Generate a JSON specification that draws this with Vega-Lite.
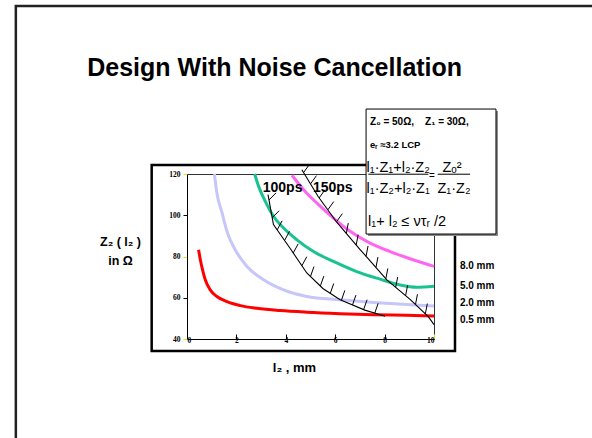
{
  "$schema": "https://vega.github.io/schema/vega-lite/v6.json",
  "width": 247,
  "height": 165,
  "autosize": {"type": "none"},
  "padding": {"left": 187, "top": 174, "right": 158, "bottom": 99},
  "background": "white",
  "config": {
    "view": {"stroke": "#333333", "strokeWidth": 1},
    "font": "Liberation Sans",
    "axisX": {
      "values": [0, 2, 4, 6, 8, 10], "grid": false,
      "labelFont": "Liberation Serif", "labelFontWeight": "bold", "labelFontSize": 7.5, "labelColor": "#000000",
      "labelPadding": 2, "tickSize": -5,
      "tickColor": {"condition": {"test": "datum.value === 0 || datum.value === 10", "value": "#e6e600"}, "value": "#000000"},
      "domainColor": "#000000",
      "titleFont": "Liberation Sans", "titleFontSize": 13, "titleFontWeight": "bold",
      "titleColor": "#000000", "titleX": 107, "titleY": 32, "titleAlign": "center", "titleBaseline": "alphabetic"
    },
    "axisY": {
      "values": [40, 60, 80, 100, 120], "grid": false,
      "labelFont": "Liberation Serif", "labelFontWeight": "bold", "labelFontSize": 7.5, "labelColor": "#000000",
      "labelPadding": 3, "tickSize": 4,
      "tickColor": {"condition": {"test": "datum.value === 80 || datum.value === 120 || datum.value === 40", "value": "#e6e600"}, "value": "#000000"},
      "domainColor": "#000000",
      "titleFont": "Liberation Sans", "titleFontSize": 12.5, "titleFontWeight": "bold",
      "titleColor": "#000000", "titleAngle": 0, "titleX": -67, "titleY": 71, "titleAlign": "center",
      "titleBaseline": "alphabetic", "titleLineHeight": 19
    }
  },
  "datasets": {
    "curves": [
      {"s": "0.5 mm", "x": 0.47, "y": 83.3}, {"s": "0.5 mm", "x": 0.54, "y": 78.4}, {"s": "0.5 mm", "x": 0.63, "y": 73.5},
      {"s": "0.5 mm", "x": 0.74, "y": 68.7}, {"s": "0.5 mm", "x": 0.94, "y": 63.8}, {"s": "0.5 mm", "x": 1.21, "y": 60.6},
      {"s": "0.5 mm", "x": 1.62, "y": 58.1}, {"s": "0.5 mm", "x": 2.16, "y": 56.2}, {"s": "0.5 mm", "x": 2.83, "y": 54.9},
      {"s": "0.5 mm", "x": 3.77, "y": 53.8}, {"s": "0.5 mm", "x": 4.85, "y": 53.0}, {"s": "0.5 mm", "x": 6.2, "y": 52.3},
      {"s": "0.5 mm", "x": 7.55, "y": 51.8}, {"s": "0.5 mm", "x": 8.9, "y": 51.5}, {"s": "0.5 mm", "x": 10, "y": 51.2},
      {"s": "2.0 mm", "x": 1.11, "y": 120}, {"s": "2.0 mm", "x": 1.21, "y": 110.8}, {"s": "2.0 mm", "x": 1.42, "y": 101.1},
      {"s": "2.0 mm", "x": 1.64, "y": 91.4}, {"s": "2.0 mm", "x": 1.95, "y": 83.3}, {"s": "2.0 mm", "x": 2.43, "y": 75.2},
      {"s": "2.0 mm", "x": 3.1, "y": 68.7}, {"s": "2.0 mm", "x": 3.91, "y": 63.8}, {"s": "2.0 mm", "x": 4.85, "y": 60.6},
      {"s": "2.0 mm", "x": 6.2, "y": 59.0}, {"s": "2.0 mm", "x": 7.55, "y": 57.7}, {"s": "2.0 mm", "x": 8.9, "y": 56.7},
      {"s": "2.0 mm", "x": 10, "y": 56.0},
      {"s": "5.0 mm", "x": 2.74, "y": 120}, {"s": "5.0 mm", "x": 2.9, "y": 114.0}, {"s": "5.0 mm", "x": 3.17, "y": 106.7},
      {"s": "5.0 mm", "x": 3.5, "y": 99.5}, {"s": "5.0 mm", "x": 3.91, "y": 93.8}, {"s": "5.0 mm", "x": 4.45, "y": 88.1},
      {"s": "5.0 mm", "x": 5.12, "y": 82.4}, {"s": "5.0 mm", "x": 5.93, "y": 77.6}, {"s": "5.0 mm", "x": 6.87, "y": 72.7},
      {"s": "5.0 mm", "x": 7.82, "y": 69.0}, {"s": "5.0 mm", "x": 8.63, "y": 66.2}, {"s": "5.0 mm", "x": 9.3, "y": 65.1},
      {"s": "5.0 mm", "x": 10, "y": 65.6},
      {"s": "8.0 mm", "x": 4.25, "y": 119.4}, {"s": "8.0 mm", "x": 4.72, "y": 112.4}, {"s": "8.0 mm", "x": 5.26, "y": 105.9},
      {"s": "8.0 mm", "x": 5.93, "y": 98.6}, {"s": "8.0 mm", "x": 6.6, "y": 92.2}, {"s": "8.0 mm", "x": 7.41, "y": 86.5},
      {"s": "8.0 mm", "x": 8.22, "y": 82.4}, {"s": "8.0 mm", "x": 9.03, "y": 78.9}, {"s": "8.0 mm", "x": 10, "y": 75.2}
    ],
    "bounds": [
      {"b": "100ps", "x": 3.28, "y": 110}, {"b": "100ps", "x": 3.5, "y": 95.5}, {"b": "100ps", "x": 4.2, "y": 83.5},
      {"b": "100ps", "x": 4.85, "y": 72}, {"b": "100ps", "x": 5.5, "y": 64.5}, {"b": "100ps", "x": 6.2, "y": 59},
      {"b": "100ps", "x": 7.2, "y": 54}, {"b": "100ps", "x": 8.02, "y": 51},
      {"b": "150ps", "x": 4.65, "y": 122.1}, {"b": "150ps", "x": 5.31, "y": 109.1}, {"b": "150ps", "x": 6.07, "y": 96.5},
      {"b": "150ps", "x": 7.0, "y": 83.5}, {"b": "150ps", "x": 8.09, "y": 68.7}, {"b": "150ps", "x": 9.03, "y": 59.2},
      {"b": "150ps", "x": 9.77, "y": 50.8}, {"b": "150ps", "x": 10, "y": 47}
    ],
    "hatches": [
      {"x": 3.32, "y": 107.4, "x2": 3.6, "y2": 110.8}, {"x": 3.45, "y": 98.8, "x2": 3.73, "y2": 102.2},
      {"x": 3.65, "y": 92.9, "x2": 3.85, "y2": 97.3}, {"x": 3.95, "y": 87.8, "x2": 4.15, "y2": 92.2},
      {"x": 4.3, "y": 81.7, "x2": 4.5, "y2": 86.1}, {"x": 4.65, "y": 75.5, "x2": 4.85, "y2": 79.9},
      {"x": 5.0, "y": 70.3, "x2": 5.14, "y2": 75.1}, {"x": 5.4, "y": 65.7, "x2": 5.54, "y2": 70.5},
      {"x": 5.8, "y": 62.1, "x2": 5.94, "y2": 66.9}, {"x": 6.25, "y": 58.75, "x2": 6.39, "y2": 63.55},
      {"x": 6.7, "y": 56.5, "x2": 6.84, "y2": 61.3}, {"x": 7.15, "y": 54.25, "x2": 7.29, "y2": 59.05},
      {"x": 7.6, "y": 52.5, "x2": 7.74, "y2": 57.3},
      {"x": 4.72, "y": 120.7, "x2": 4.96, "y2": 124.7}, {"x": 5.0, "y": 115.2, "x2": 5.24, "y2": 119.2},
      {"x": 5.35, "y": 108.4, "x2": 5.59, "y2": 112.4}, {"x": 5.7, "y": 102.6, "x2": 5.94, "y2": 106.6},
      {"x": 6.05, "y": 96.8, "x2": 6.29, "y2": 100.8}, {"x": 6.45, "y": 91.2, "x2": 6.53, "y2": 96.2},
      {"x": 6.85, "y": 85.6, "x2": 6.93, "y2": 90.6}, {"x": 7.25, "y": 80.1, "x2": 7.33, "y2": 85.1},
      {"x": 7.65, "y": 74.7, "x2": 7.73, "y2": 79.7}, {"x": 8.05, "y": 69.2, "x2": 8.13, "y2": 74.2},
      {"x": 8.45, "y": 65.1, "x2": 8.53, "y2": 70.1}, {"x": 8.85, "y": 61.0, "x2": 8.93, "y2": 66.0},
      {"x": 9.25, "y": 56.7, "x2": 9.33, "y2": 61.7}, {"x": 9.65, "y": 52.2, "x2": 9.73, "y2": 57.2}
    ],
    "seriesLabels": [
      {"label": "8.0 mm", "x": 11.05, "y": 75.4}, {"label": "5.0 mm", "x": 11.05, "y": 65.7},
      {"label": "2.0 mm", "x": 11.05, "y": 57.5}, {"label": "0.5 mm", "x": 11.05, "y": 49.2}
    ]
  },
  "layer": [
    {
      "data": {"name": "curves"},
      "mark": {"type": "line", "strokeWidth": 3, "interpolate": "monotone"},
      "encoding": {
        "x": {
          "field": "x", "type": "quantitative",
          "scale": {"domain": [0, 10], "nice": false, "zero": false},
          "axis": {"title": "l₂ , mm"}
        },
        "y": {
          "field": "y", "type": "quantitative",
          "scale": {"domain": [40, 120], "nice": false, "zero": false},
          "axis": {"title": ["Z₂ ( l₂ )", "in Ω"]}
        },
        "color": {
          "field": "s", "type": "nominal",
          "scale": {"domain": ["0.5 mm", "2.0 mm", "5.0 mm", "8.0 mm"], "range": ["#ff0000", "#c6c6fa", "#19c290", "#ff66f0"]},
          "legend": null
        }
      }
    },
    {
      "data": {"values": [{}]},
      "mark": {"type": "rect", "fillOpacity": 0, "stroke": "#222222", "strokeWidth": 2.5},
      "encoding": {
        "x": {"datum": -6.93, "type": "quantitative"},
        "x2": {"datum": 20},
        "y": {"datum": 201.5, "type": "quantitative"},
        "y2": {"datum": -20}
      }
    },
    {
      "data": {"values": [{}]},
      "mark": {"type": "rect", "fillOpacity": 0, "stroke": "#000000", "strokeWidth": 2.5},
      "encoding": {
        "x": {"datum": -1.43, "type": "quantitative"},
        "x2": {"datum": 10.85},
        "y": {"datum": 124.4, "type": "quantitative"},
        "y2": {"datum": 34.2}
      }
    },
    {
      "data": {"name": "bounds"},
      "mark": {"type": "line", "strokeWidth": 1.1, "color": "#000000"},
      "encoding": {
        "x": {"field": "x", "type": "quantitative"},
        "y": {"field": "y", "type": "quantitative"},
        "detail": {"field": "b"}
      }
    },
    {
      "data": {"name": "hatches"},
      "mark": {"type": "rule", "strokeWidth": 1, "color": "#000000"},
      "encoding": {
        "x": {"field": "x", "type": "quantitative"},
        "y": {"field": "y", "type": "quantitative"},
        "x2": {"field": "x2"},
        "y2": {"field": "y2"}
      }
    },
    {
      "data": {"values": [{"t": "100ps", "x": 3.87}, {"t": "150ps", "x": 5.9}]},
      "mark": {"type": "text", "font": "Liberation Sans", "fontWeight": "bold", "fontSize": 14, "align": "center", "baseline": "alphabetic", "color": "#000000"},
      "encoding": {
        "x": {"field": "x", "type": "quantitative"},
        "y": {"datum": 111.4, "type": "quantitative"},
        "text": {"field": "t"}
      }
    },
    {
      "data": {"name": "seriesLabels"},
      "mark": {"type": "text", "font": "Liberation Sans", "fontWeight": "bold", "fontSize": 10, "align": "left", "baseline": "middle", "color": "#000000"},
      "encoding": {
        "x": {"field": "x", "type": "quantitative"},
        "y": {"field": "y", "type": "quantitative"},
        "text": {"field": "label"}
      }
    },
    {
      "data": {"values": [{"t": "Design With Noise Cancellation"}]},
      "mark": {"type": "text", "font": "Liberation Sans", "fontWeight": "bold", "fontSize": 25, "align": "center", "baseline": "alphabetic", "color": "#000000"},
      "encoding": {
        "x": {"datum": 3.55, "type": "quantitative"},
        "y": {"datum": 167.7, "type": "quantitative"},
        "text": {"field": "t"}
      }
    },
    {
      "data": {"values": [{}]},
      "mark": {"type": "rect", "fill": "#888888"},
      "encoding": {
        "x": {"datum": 7.33, "type": "quantitative"},
        "x2": {"datum": 12.59},
        "y": {"datum": 150.5, "type": "quantitative"},
        "y2": {"datum": 89.9}
      }
    },
    {
      "data": {"values": [{}]},
      "mark": {"type": "rect", "fill": "#ffffff", "stroke": "#000000", "strokeWidth": 1},
      "encoding": {
        "x": {"datum": 7.25, "type": "quantitative"},
        "x2": {"datum": 12.51},
        "y": {"datum": 151.5, "type": "quantitative"},
        "y2": {"datum": 90.9}
      }
    },
    {
      "data": {"values": [{"t": "Z₀ = 50Ω,", "x": 7.41}, {"t": "Z₁ = 30Ω,", "x": 9.64}]},
      "mark": {"type": "text", "font": "Liberation Sans", "fontWeight": "bold", "fontSize": 10, "align": "left", "baseline": "alphabetic", "color": "#000000"},
      "encoding": {
        "x": {"field": "x", "type": "quantitative"},
        "y": {"datum": 143.9, "type": "quantitative"},
        "text": {"field": "t"}
      }
    },
    {
      "data": {"values": [{"t": "eᵣ ≈3.2 LCP"}]},
      "mark": {"type": "text", "font": "Liberation Sans", "fontWeight": "bold", "fontSize": 9.5, "align": "left", "baseline": "alphabetic", "color": "#000000"},
      "encoding": {
        "x": {"datum": 7.41, "type": "quantitative"},
        "y": {"datum": 132.8, "type": "quantitative"},
        "text": {"field": "t"}
      }
    },
    {
      "data": {"values": [{"t": "l₁·Z₁+l₂·Z₂", "x": 8.55, "y": 121.1}, {"t": "l₁·Z₂+l₂·Z₁", "x": 8.55, "y": 110.6}, {"t": "Zₒ²", "x": 10.73, "y": 121.1}, {"t": "Z₁·Z₂", "x": 10.81, "y": 110.6}]},
      "mark": {"type": "text", "font": "Liberation Sans", "fontSize": 14.5, "align": "center", "baseline": "alphabetic", "color": "#000000"},
      "encoding": {
        "x": {"field": "x", "type": "quantitative"},
        "y": {"field": "y", "type": "quantitative"},
        "text": {"field": "t"}
      }
    },
    {
      "data": {"values": [{"x": 7.34, "x2": 9.77}, {"x": 10.15, "x2": 11.46}]},
      "mark": {"type": "rule", "strokeWidth": 1, "color": "#000000"},
      "encoding": {
        "x": {"field": "x", "type": "quantitative"},
        "x2": {"field": "x2"},
        "y": {"datum": 119.9, "type": "quantitative"}
      }
    },
    {
      "data": {"values": [{"t": "="}]},
      "mark": {"type": "text", "font": "Liberation Sans", "fontSize": 10, "align": "center", "baseline": "middle", "color": "#000000"},
      "encoding": {
        "x": {"datum": 9.92, "type": "quantitative"},
        "y": {"datum": 118.9, "type": "quantitative"},
        "text": {"field": "t"}
      }
    },
    {
      "data": {"values": [{"t": "l₁+ l₂ ≤ ντᵣ /2"}]},
      "mark": {"type": "text", "font": "Liberation Sans", "fontSize": 14.5, "align": "left", "baseline": "alphabetic", "color": "#000000"},
      "encoding": {
        "x": {"datum": 7.33, "type": "quantitative"},
        "y": {"datum": 94.9, "type": "quantitative"},
        "text": {"field": "t"}
      }
    }
  ]
}
